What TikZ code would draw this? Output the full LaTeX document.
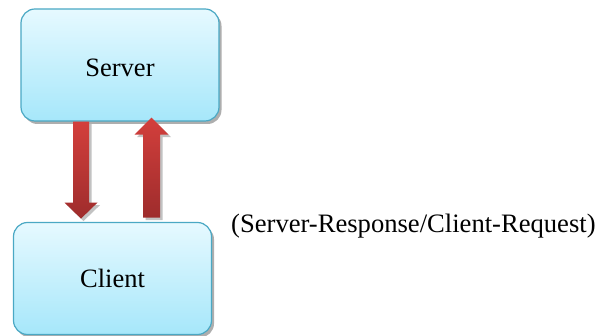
\documentclass[tikz,border=0pt]{standalone}
\usepackage{fontspec}
\setmainfont{Liberation Serif}
\usetikzlibrary{calc,shadows}
\definecolor{boxline}{HTML}{4AA8C4}
\definecolor{boxtop}{HTML}{E6F9FF}
\definecolor{boxbot}{HTML}{A6E7FA}
\definecolor{arrtop}{HTML}{D33F3C}
\definecolor{arrbot}{HTML}{9E2C2C}
\begin{document}
\begin{tikzpicture}[x=1pt,y=-1pt,
  box/.style={draw=boxline, line width=1.2pt, rounded corners=14pt,
    top color=boxtop, bottom color=boxbot,
    minimum width=198pt, minimum height=112pt,
    font=\fontsize{26.5}{30}\selectfont,
    drop shadow={shadow xshift=2.5pt, shadow yshift=-3pt, fill=black!45, opacity=0.7}},
  blockarrow/.style={top color=arrtop, bottom color=arrbot, draw=none,
    drop shadow={shadow xshift=2.5pt, shadow yshift=-2.5pt, fill=black!40, opacity=0.6}},
  lbl/.style={font=\fontsize{26.6}{30}\selectfont, inner sep=0pt, anchor=west}]
\useasboundingbox (0,0) rectangle (608,336);
\node[box, text height=23pt] (server) at (120,65) {Server};
\node[box] (client) at (112.5,278.5) {Client};
\node[lbl] (note) at (231,226) {(Server-Response/Client-Request)};
\coordinate (dtop) at ($(server.south)+(-39,0)$);
\coordinate (utip) at ($(server.south)+(31.5,-4)$);
\path[blockarrow] ($(dtop)+(-8,0)$) -- ++(16,0) -- ++(0,81) -- ++(8.5,0)
  -- ++(-16.5,16) -- ++(-16.5,-16) -- ++(8.5,0) -- cycle;
\path[blockarrow] (utip) -- ++(17,17) -- ++(-8.5,0) -- ++(0,83) -- ++(-17,0)
  -- ++(0,-83) -- ++(-8.5,0) -- cycle;
\end{tikzpicture}
\end{document}
